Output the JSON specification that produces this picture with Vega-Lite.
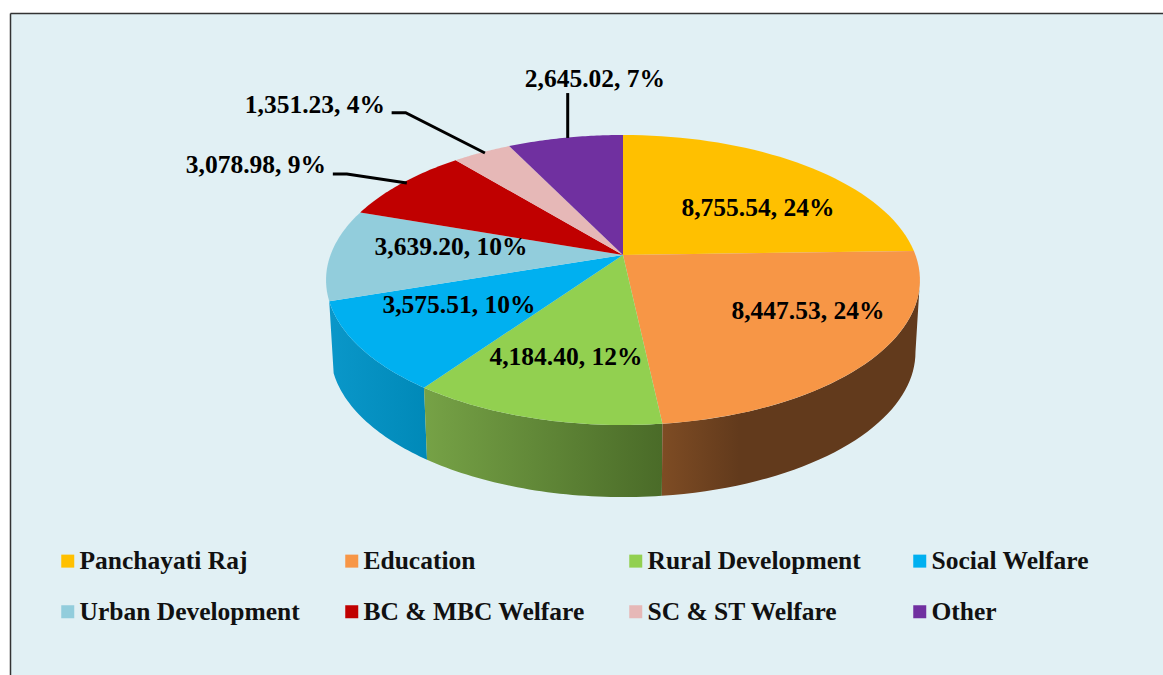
{
"$schema":"https://vega.github.io/schema/vega-lite/v6.json",
"width":1163,"height":675,
"autosize":{"type":"fit","contains":"padding"},
"padding":{"left":10,"top":13,"right":0,"bottom":0},
"background":"white",
"view":{"fill":"#e1f0f4","stroke":null},
"config":{"font":"Liberation Serif"},
"data":{"values":[
{"n":1,"category":"Panchayati Raj","value":8755.54,"pct":24},
{"n":2,"category":"Education","value":8447.53,"pct":24},
{"n":3,"category":"Rural Development","value":4184.40,"pct":12},
{"n":4,"category":"Social Welfare","value":3575.51,"pct":10},
{"n":5,"category":"Urban Development","value":3639.20,"pct":10},
{"n":6,"category":"BC & MBC Welfare","value":3078.98,"pct":9},
{"n":7,"category":"SC & ST Welfare","value":1351.23,"pct":4},
{"n":8,"category":"Other","value":2645.02,"pct":7}
]},
"transform":[
{"joinaggregate":[{"op":"sum","field":"value","as":"total"}]},
{"window":[{"op":"sum","field":"value","as":"cum"}],"sort":[{"field":"n","order":"ascending"}],"frame":[null,0]},
{"calculate":"2*PI*(datum.cum-datum.value)/datum.total","as":"theta0"},
{"calculate":"2*PI*datum.cum/datum.total","as":"theta1"}
],
"encoding":{
"x":{"field":"u","type":"quantitative","scale":{"domain":[-2.0957,1.8462],"nice":false,"zero":false},"axis":{"orient":"top","domain":true,"domainColor":"#333333","domainWidth":1.5,"ticks":false,"labels":false,"grid":false,"title":null}},
"y":{"field":"v","type":"quantitative","scale":{"domain":[-2.985,1.72],"nice":false,"zero":false},"axis":{"orient":"left","domain":true,"domainColor":"#333333","domainWidth":1.5,"ticks":false,"labels":false,"grid":false,"title":null}}
},
"layer":[
{"transform":[
{"filter":"datum.category==='Social Welfare'"},
{"calculate":"sequence(0,2.0251,0.025)","as":"t"},{"flatten":["t"]},
{"calculate":"datum.t<=1.0001?datum.t:max(0,2.025-datum.t)","as":"f"},
{"calculate":"datum.theta0+(datum.theta1-datum.theta0)*datum.f","as":"a"},
{"calculate":"sin(datum.a)/(1+0.1724*cos(datum.a))*(datum.t<=1.0001?1:0.985)","as":"u"},
{"calculate":"cos(datum.a)/(1+0.1724*cos(datum.a))-(datum.t<=1.0001?0:0.512)","as":"v"}],
"mark":{"type":"line","filled":true,"strokeWidth":0,"color":{"gradient":"linear","x1":0,"x2":1,"y1":0,"y2":0,"stops":[{"offset":0,"color":"#0a97c9"},{"offset":1,"color":"#0089b8"}]}},
"encoding":{"order":{"field":"t","type":"quantitative"}}},
{"transform":[
{"filter":"datum.category==='Rural Development'"},
{"calculate":"sequence(0,2.0251,0.025)","as":"t"},{"flatten":["t"]},
{"calculate":"datum.t<=1.0001?datum.t:max(0,2.025-datum.t)","as":"f"},
{"calculate":"datum.theta0+(datum.theta1-datum.theta0)*datum.f","as":"a"},
{"calculate":"sin(datum.a)/(1+0.1724*cos(datum.a))*(datum.t<=1.0001?1:0.985)","as":"u"},
{"calculate":"cos(datum.a)/(1+0.1724*cos(datum.a))-(datum.t<=1.0001?0:0.512)","as":"v"}],
"mark":{"type":"line","filled":true,"strokeWidth":0,"color":{"gradient":"linear","x1":0,"x2":1,"y1":0,"y2":0,"stops":[{"offset":0,"color":"#76a246"},{"offset":1,"color":"#4a6b28"}]}},
"encoding":{"order":{"field":"t","type":"quantitative"}}},
{"transform":[
{"filter":"datum.category==='Education'"},
{"calculate":"sequence(0,2.0251,0.025)","as":"t"},{"flatten":["t"]},
{"calculate":"datum.t<=1.0001?datum.t:max(0,2.025-datum.t)","as":"f"},
{"calculate":"1.7441+(datum.theta1-1.7441)*datum.f","as":"a"},
{"calculate":"sin(datum.a)/(1+0.1724*cos(datum.a))*(datum.t<=1.0001?1:0.985)","as":"u"},
{"calculate":"cos(datum.a)/(1+0.1724*cos(datum.a))-(datum.t<=1.0001?0:0.512)","as":"v"}],
"mark":{"type":"line","filled":true,"strokeWidth":0,"color":{"gradient":"linear","x1":1,"x2":0,"y1":0,"y2":0,"stops":[{"offset":0,"color":"#623a1c"},{"offset":0.7,"color":"#623a1c"},{"offset":1,"color":"#7e4c24"}]}},
"encoding":{"order":{"field":"t","type":"quantitative"}}},
{"transform":[
{"calculate":"sequence(-0.025,1.0001,0.025)","as":"t"},{"flatten":["t"]},
{"calculate":"datum.theta0+(datum.theta1-datum.theta0)*datum.t","as":"a"},
{"calculate":"datum.t<0?0:sin(datum.a)/(1+0.1724*cos(datum.a))","as":"u"},
{"calculate":"datum.t<0?0:cos(datum.a)/(1+0.1724*cos(datum.a))","as":"v"}],
"mark":{"type":"line","filled":true,"strokeWidth":0},
"encoding":{
"order":{"field":"t","type":"quantitative"},
"color":{"field":"category","type":"nominal","sort":null,
"scale":{"domain":["Panchayati Raj","Education","Rural Development","Social Welfare","Urban Development","BC & MBC Welfare","SC & ST Welfare","Other"],
"range":["#FFC000","#F79646","#92D050","#00B0F0","#92CDDC","#C00000","#E6B8B7","#7030A0"]},
"legend":{"orient":"none","legendX":45,"legendY":535,"direction":"horizontal","columns":4,"gridAlign":"all","title":null,"symbolType":"square","symbolSize":169,"symbolStrokeWidth":0,"labelFont":"Liberation Serif","labelFontWeight":"bold","labelFontSize":25.5,"labelColor":"#111111","labelOffset":-1,"labelLimit":400,"columnPadding":38,"rowPadding":24,"padding":0}}}},
{"transform":[
{"filter":"indexof(['BC & MBC Welfare','SC & ST Welfare','Other'],datum.category)>=0"},
{"calculate":"[0,1,2]","as":"k"},
{"calculate":"{'BC & MBC Welfare':[-0.992,-0.944,-0.739],'SC & ST Welfare':[-0.791,-0.743,-0.472],'Other':[-0.189,-0.189,-0.189]}[datum.category]","as":"u"},
{"calculate":"{'BC & MBC Welfare':[0.576,0.576,0.512],'SC & ST Welfare':[1.011,1.011,0.725],'Other':[1.151,0.95,0.832]}[datum.category]","as":"v"},
{"flatten":["k","u","v"]}],
"mark":{"type":"line","color":"#000000","strokeWidth":3},
"encoding":{"order":{"field":"k","type":"quantitative"},"detail":{"field":"category"}}},
{"transform":[
{"calculate":"format(datum.value,',.2f')+', '+datum.pct+'%'","as":"label"},
{"calculate":"{'Panchayati Raj':0.4615,'Education':0.6325,'Rural Development':-0.195,'Social Welfare':-0.561,'Urban Development':-0.588,'BC & MBC Welfare':-1.255,'SC & ST Welfare':-1.053,'Other':-0.096}[datum.category]","as":"u"},
{"calculate":"{'Panchayati Raj':0.334,'Education':-0.398,'Rural Development':-0.725,'Social Welfare':-0.355,'Urban Development':0.057,'BC & MBC Welfare':0.64,'SC & ST Welfare':1.066,'Other':1.251}[datum.category]","as":"v"}],
"mark":{"type":"text","font":"Liberation Serif","fontWeight":"bold","fontSize":25.5,"color":"#000000","align":"center","baseline":"middle"},
"encoding":{"text":{"field":"label"}}}
]
}
